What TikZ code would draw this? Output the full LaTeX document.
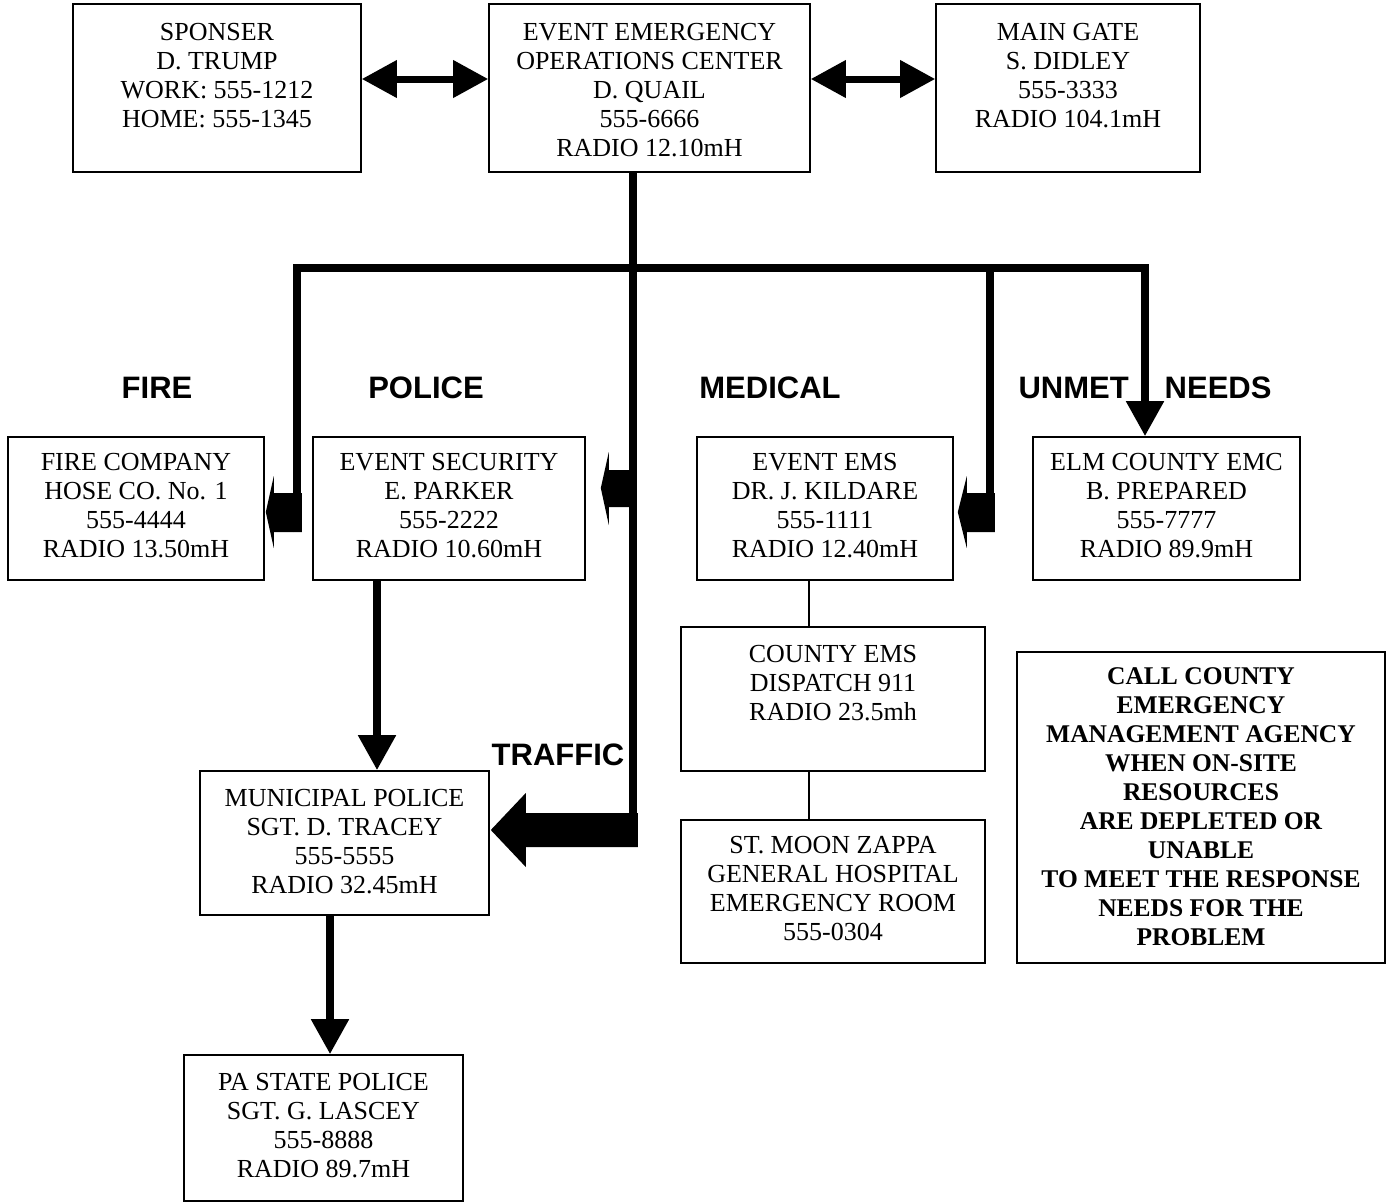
\documentclass[tikz,border=0pt]{standalone}
\usepackage{fontspec}
\setmainfont{Liberation Serif}
\newfontfamily\lblfont{Liberation Sans}
\usetikzlibrary{arrows.meta,calc}
\begin{document}
\begin{tikzpicture}[x=1pt,y=-1pt,
  box/.style={draw, line width=1.6pt, rectangle, inner sep=0pt},
  txt/.style={anchor=north, align=center, inner sep=0pt, font=\fontsize{26}{29}\selectfont},
  btxt/.style={anchor=north, align=center, inner sep=0pt, font=\fontsize{25.5}{29}\selectfont\bfseries},
  lbl/.style={font=\lblfont\bfseries\fontsize{31}{36}\selectfont, inner sep=0pt},
  fat/.style={line width=8pt, line join=miter},
  thinline/.style={line width=1.6pt},
  headarrow/.style={line width=8pt, -{Triangle[width=36pt,length=35pt]}},
  dblarrow/.style={line width=7pt, {Triangle[width=36pt,length=35pt]}-{Triangle[width=36pt,length=35pt]}}
]
\useasboundingbox (0,0) rectangle (1391,1203);

% ---------- boxes ----------
\node[box, minimum width=288, minimum height=168] (sponser) at (217,88) {};
\node[box, minimum width=321, minimum height=168] (eeoc) at (649.5,88) {};
\node[box, minimum width=264, minimum height=168] (gate) at (1068,88) {};
\node[box, minimum width=256, minimum height=143] (fire) at (136,508.5) {};
\node[box, minimum width=272, minimum height=143] (sec) at (449,508.5) {};
\node[box, minimum width=256, minimum height=143] (ems) at (825,508.5) {};
\node[box, minimum width=267, minimum height=143] (elm) at (1166.5,508.5) {};
\node[box, minimum width=304, minimum height=144] (county) at (833,699) {};
\node[box, minimum width=304, minimum height=143] (hosp) at (833,891.5) {};
\node[box, minimum width=368, minimum height=311] (call) at (1201,807.5) {};
\node[box, minimum width=289, minimum height=144] (muni) at (344.5,843) {};
\node[box, minimum width=279, minimum height=146] (pa) at (323.5,1128) {};

% ---------- box texts ----------
\node[txt] (sponsert) at ($(sponser.north)+(0,20)$) {SPONSER\\D. TRUMP\\WORK: 555-1212\\HOME: 555-1345};
\node[txt] (eeoct) at ($(eeoc.north)+(0,20)$) {EVENT EMERGENCY\\OPERATIONS CENTER\\D. QUAIL\\555-6666\\RADIO 12.10mH};
\node[txt] (gatet) at ($(gate.north)+(0,20)$) {MAIN GATE\\S. DIDLEY\\555-3333\\RADIO 104.1mH};
\node[txt] (firet) at ($(fire.north)+(0,17)$) {FIRE COMPANY\\HOSE CO. No. 1\\555-4444\\RADIO 13.50mH};
\node[txt] (sect) at ($(sec.north)+(0,17)$) {EVENT SECURITY\\E. PARKER\\555-2222\\RADIO 10.60mH};
\node[txt] (emst) at ($(ems.north)+(0,17)$) {EVENT EMS\\DR. J. KILDARE\\555-1111\\RADIO 12.40mH};
\node[txt] (elmt) at ($(elm.north)+(0,17)$) {ELM COUNTY EMC\\B. PREPARED\\555-7777\\RADIO 89.9mH};
\node[txt] (countyt) at ($(county.north)+(0,19)$) {COUNTY EMS\\DISPATCH 911\\RADIO 23.5mh};
\node[txt] (hospt) at ($(hosp.north)+(0,17)$) {ST. MOON ZAPPA\\GENERAL HOSPITAL\\EMERGENCY ROOM\\555-0304};
\node[btxt] (callt) at ($(call.north)+(0,16)$) {CALL COUNTY\\EMERGENCY\\MANAGEMENT AGENCY\\WHEN ON-SITE\\RESOURCES\\ARE DEPLETED OR\\UNABLE\\TO MEET THE RESPONSE\\NEEDS FOR THE\\PROBLEM};
\node[txt] (munit) at ($(muni.north)+(0,19)$) {MUNICIPAL POLICE\\SGT. D. TRACEY\\555-5555\\RADIO 32.45mH};
\node[txt] (pat) at ($(pa.north)+(0,19)$) {PA STATE POLICE\\SGT. G. LASCEY\\555-8888\\RADIO 89.7mH};

% ---------- section labels ----------
\node[lbl] (lfire) at (157,388) {FIRE};
\node[lbl] (lpolice) at (426,388) {POLICE};
\node[lbl] (lmedical) at (770,388) {MEDICAL};
\node[lbl] (lunmet) at (1145,388) {UNMET\hspace{36pt}NEEDS};
\node[lbl] (ltraffic) at (558,755) {TRAFFIC};

% ---------- helper coordinates ----------
\coordinate (ya) at (0,79);
\coordinate (xm) at (633,0);
\coordinate (xe) at (990,0);
\coordinate (xu) at (1145,0);
\coordinate (xs) at (377,0);
\coordinate (xp) at (330,0);
\coordinate (xt) at (809,0);
\coordinate (bus) at (297,268);
\coordinate (firetail) at (297,532);
\coordinate (emstail) at (990,532);
\coordinate (maintail) at (633,846);

% ---------- top double arrows ----------
\draw[dblarrow] (sponser.east |- ya) -- (eeoc.west |- ya);
\draw[dblarrow] (eeoc.east |- ya) -- (gate.west |- ya);

% ---------- bus and branches ----------
\draw[fat] (firetail) -- (bus) -| ($(elm.north -| xu)+(0,-34)$);
\draw[headarrow] ($(elm.north -| xu)+(0,-36)$) -- (elm.north -| xu);
\draw[fat] (xe |- bus) -- (emstail);
\draw[fat] (eeoc.south -| xm) -- (maintail);

% fire block arrow
\fill ($(fire.east)+(1,3.5)$) -- ++(8,-36) -- ++(0,17) -- ++(28,0) -- ++(0,39) -- ++(-28,0) -- ++(0,16) -- cycle;
% police block arrow
\fill ($(sec.east)+(15,-20.5)$) -- ++(8,-36) -- ++(0,18) -- ++(26,0) -- ++(0,37) -- ++(-26,0) -- ++(0,18) -- cycle;
% medical block arrow
\fill ($(ems.east)+(4,3.5)$) -- ++(9,-36) -- ++(0,17) -- ++(28,0) -- ++(0,39) -- ++(-28,0) -- ++(0,16) -- cycle;
% traffic block arrow
\fill ($(muni.east)+(1,-13)$) -- ++(35,-37) -- ++(0,20) -- ++(112,0) -- ++(0,34) -- ++(-112,0) -- ++(0,20) -- cycle;

% ---------- police chain ----------
\draw[headarrow] (sec.south -| xs) -- (muni.north -| xs);
\draw[headarrow] (muni.south -| xp) -- (pa.north -| xp);

% ---------- medical chain ----------
\draw[thinline] (ems.south -| xt) -- (county.north -| xt);
\draw[thinline] (county.south -| xt) -- (hosp.north -| xt);
\end{tikzpicture}
\end{document}
